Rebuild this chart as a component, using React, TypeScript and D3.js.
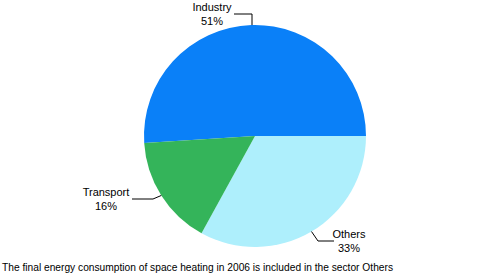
import React from "react";
import * as d3 from "d3";

const categories = ["Industry", "Others", "Transport"];
const values = [51, 33, 16];
const colors = ["#0A80F8", "#AEEFFC", "#34B45A"];
const footnote = "The final energy consumption of space heating in 2006 is included in the sector Others";

const W = 493, H = 274;
const cx = 255, cy = 136, R = 111;

export default function App() {
  const total = d3.sum(values);
  const start = -(values[0] / total) * 2 * Math.PI + Math.PI / 2;
  const pie = d3.pie<number>().sort(null).value(d => d).startAngle(start).endAngle(start + 2 * Math.PI);
  const arcs = pie(values);
  const arc = d3.arc<d3.PieArcDatum<number>>().innerRadius(0).outerRadius(R);

  // label layouts: [textX, baseline1, elbowX, elbowY, side]
  const labelCfg = [
    { tx: 212, ty: 11, ex: 252, ey: 14, hx: 234, hy: 14, vertical: true },
    { tx: 349, ty: 238, ex: 318, ey: 241, hx: 334, hy: 241, vertical: false },
    { tx: 106, ty: 196, ex: 153, ey: 199, hx: 132, hy: 199, vertical: false },
  ];

  return (
    <svg width={W} height={H} style={{ position: "absolute", left: 0, top: 0 }}>
      <rect width={W} height={H} fill="#fff" />
      <g transform={`translate(${cx},${cy})`}>
        {arcs.map((a, i) => (
          <path key={i} d={arc(a) || ""} fill={colors[i]} />
        ))}
      </g>
      {arcs.map((a, i) => {
        const mid = (a.startAngle + a.endAngle) / 2;
        const px = cx + R * Math.sin(mid);
        const py = cy - R * Math.cos(mid);
        const c = labelCfg[i];
        const pts = c.vertical
          ? `${c.hx},${c.hy} ${c.ex},${c.ey} ${c.ex},${py}`
          : `${px},${py} ${c.ex},${c.ey} ${c.hx},${c.hy}`;
        return (
          <g key={i}>
            <polyline points={pts} fill="none" stroke="#000" strokeWidth={1} />
            <text x={c.tx} y={c.ty} textAnchor="middle" fontFamily="Liberation Sans, Arial, sans-serif" fontSize={11} fill="#000">
              {categories[i]}
            </text>
            <text x={c.tx} y={c.ty + 14} textAnchor="middle" fontFamily="Liberation Sans, Arial, sans-serif" fontSize={11} fill="#000">
              {values[i]}%
            </text>
          </g>
        );
      })}
      <text x={2} y={271} fontFamily="Liberation Sans, Arial, sans-serif" fontSize={10} fill="#000" textLength={391} lengthAdjust="spacingAndGlyphs">
        {footnote}
      </text>
    </svg>
  );
}
